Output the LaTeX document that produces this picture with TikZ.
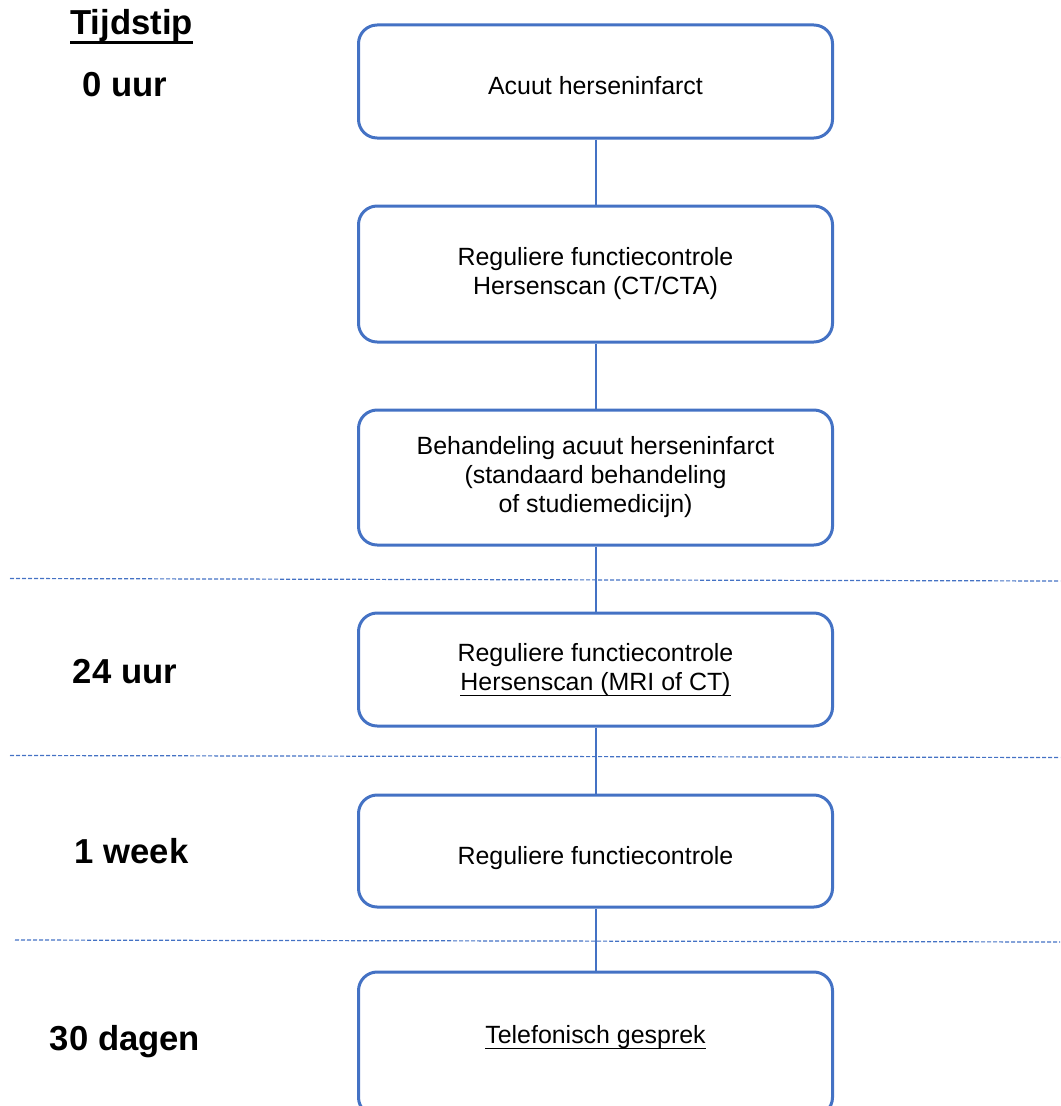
\documentclass[tikz,border=0pt]{standalone}
\usepackage{fontspec}
\setmainfont{Liberation Sans}
\definecolor{flowblue}{RGB}{68,114,196}
% underline: thickness, depth below baseline, text
\newcommand{\ulinebox}[3]{\setbox0\hbox{#3}\leavevmode\rlap{\rule[-#2]{\wd0}{#1}}\box0}

\begin{document}
\begin{tikzpicture}[x=0.75pt,y=0.75pt,yscale=-1,xscale=1,
  stepbox/.style={draw=flowblue, line width=2.25pt, rounded corners=14pt, minimum width=355.5pt, inner sep=0pt, align=center, font=\fontsize{18.7}{21.75}\selectfont},
  link/.style={draw=flowblue, line width=1.5pt},
  sepline/.style={draw=flowblue, line width=0.9pt, dash pattern=on 3pt off 1.5pt},
  timelabel/.style={anchor=base, inner sep=0pt, font=\fontsize{26}{31}\selectfont\bfseries}]
\useasboundingbox (0,0) rectangle (1060,1106);

%Shape: Rounded Rect
\draw (595.5,81.5) node [stepbox, minimum height=84.75pt, text height=19.5pt, text depth=0pt] (infarct) {Acuut herseninfarct};
%Shape: Rounded Rect
\draw (595.5,274) node [stepbox, minimum height=102pt] (scanct) {Reguliere functiecontrole\\Hersenscan (CT/CTA)};
%Shape: Rounded Rect
\draw (595.5,477.5) node [stepbox, minimum height=101.25pt] (behandeling) {Behandeling acuut herseninfarct\\(standaard behandeling\\of studiemedicijn)};
%Shape: Rounded Rect
\draw (595.5,669.5) node [stepbox, minimum height=84.75pt] (scanmri) {Reguliere functiecontrole\\\ulinebox{1pt}{4.2pt}{Hersenscan (MRI of CT)}};
%Shape: Rounded Rect
\draw (595.5,851) node [stepbox, minimum height=84pt, text height=19.5pt, text depth=0pt] (controle) {Reguliere functiecontrole};
%Shape: Rounded Rect
\draw (595.5,1044) node [stepbox, minimum height=108pt, text height=10pt, text depth=11pt] (gesprek) {\ulinebox{1pt}{4.2pt}{Telefonisch gesprek}};

%Straight Lines
\draw [link] (infarct) -- (scanct);
\draw [link] (scanct) -- (behandeling);
\draw [link] (behandeling) -- (scanmri);
\draw [link] (scanmri) -- (controle);
\draw [link] (controle) -- (gesprek);

%Dashed Lines
\draw [sepline] (10,578.5) -- (1060,581);
\draw [sepline] (10,755.5) -- (1060,757.5);
\draw [sepline] (15,940) -- (1060,942);

% Text Node
\draw (131.5,35) node [timelabel] (tijdstip) {\ulinebox{2pt}{6.5pt}{Tijdstip}};
% Text Node
\draw (124.5,97) node [timelabel] (uur0) {0 uur};
% Text Node
\draw (125,683) node [timelabel] (uur24) {24 uur};
% Text Node
\draw (131.5,863) node [timelabel] (week1) {1 week};
% Text Node
\draw (125,1050) node [timelabel] (dagen30) {30 dagen};

\end{tikzpicture}
\end{document}
